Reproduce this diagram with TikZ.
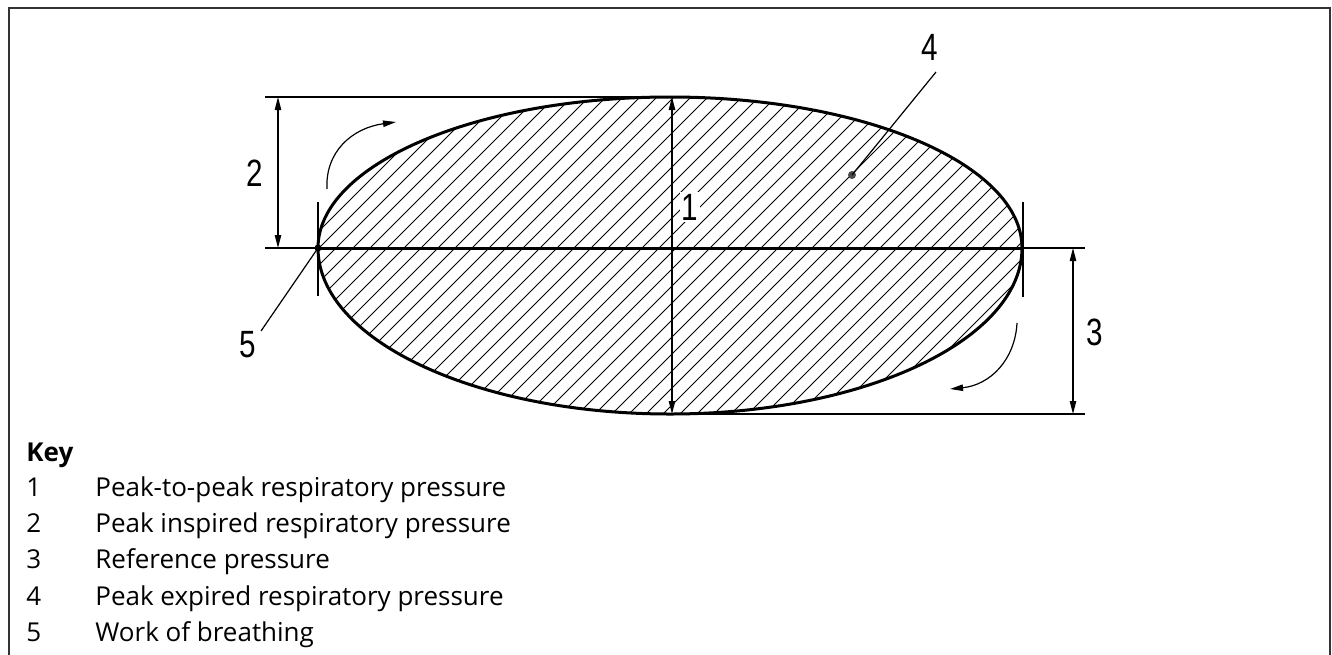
\documentclass[tikz,border=0pt]{standalone}
\usepackage{fontspec}
\setmainfont{Open Sans}
\newfontfamily\isofont[FakeStretch=0.78]{Liberation Sans}
\usetikzlibrary{arrows.meta, calc}
\definecolor{marco}{HTML}{333333}
\definecolor{punto}{HTML}{4A4A4A}

\begin{document}
\begin{tikzpicture}[x=0.5pt, y=-0.5pt,
    fina/.style={line width=0.6pt},
    gruesa/.style={line width=1.5pt},
    cota/.style={fina, {Triangle[length=6.5pt,width=3.2pt]}-{Triangle[length=6.5pt,width=3.2pt]}},
    flecha/.style={fina, -{Triangle[length=6.5pt,width=3.2pt]}},
    rayado/.style={line width=0.45pt},
    etiq/.style={font=\isofont\fontsize{19}{19}\selectfont, inner sep=1pt},
    clave/.style={anchor=base west, inner sep=0pt, font=\fontsize{13}{15}\selectfont}]
  \useasboundingbox (0,0) rectangle (1332,654);
  % Marco (abierto por abajo)
  \draw[line width=1pt, color=marco] (9,670) -- (9,8) -- (1330,8) -- (1330,670);

  % Puntos de la elipse
  \coordinate (izq) at (318,248);
  \coordinate (der) at (1022,248);
  \coordinate (cima) at (670,97);
  \coordinate (fondo) at (670,414);

  % Rayado del area (trabajo respiratorio)
  \begin{scope}
    \clip (izq) arc[start angle=180, end angle=360, x radius=352, y radius=151]
      arc[start angle=0, end angle=180, x radius=352, y radius=166] -- cycle;
    \foreach \c in {-60,-43,...,1060}
      \draw[rayado] (\c,440) -- ++(360,-360);
  \end{scope}
  \draw[gruesa] (izq) arc[start angle=180, end angle=360, x radius=352, y radius=151]
    arc[start angle=0, end angle=180, x radius=352, y radius=166] -- cycle;

  % Lineas de referencia
  \coordinate (refi) at (265,248);
  \coordinate (refd) at (1085,248);
  \coordinate (supi) at (265,97);
  \coordinate (infd) at (1085,414);
  \draw[fina] (refi) -- (refd);
  \draw[gruesa] (izq) -- (der);
  \draw[fina] (supi) -- (cima);
  \draw[fina] (fondo) -- (infd);

  % Marcas verticales en los extremos
  \draw[line width=1.4pt] ($(izq)+(0,-46)$) -- ($(izq)+(0,48)$);
  \draw[line width=1.4pt] ($(der)+(1,-46)$) -- ($(der)+(1,49)$);
  \fill (izq) circle[radius=3.5];

  % Cotas 1, 2 y 3
  \draw[cota] (672,97) -- (672,414);
  \draw[cota] (278,97) -- (278,248);
  \draw[cota] (1073,248) -- (1073,414);
  \node[etiq, fill=white] (n1) at (690,207) {1};
  \node[etiq] (n2) at (255,173) {2};
  \node[etiq] (n3) at (1095,332) {3};

  % Sentido del ciclo
  \coordinate (ia) at (327,189);
  \coordinate (ib) at (396,122);
  \coordinate (da) at (1017,323);
  \coordinate (db) at (950,389);
  \draw[flecha] (ia) .. controls (325,152) and (352,128) .. (ib);
  \draw[flecha] (da) .. controls (1015,360) and (990,385) .. (db);

  % Lineas de referencia 4 y 5
  \coordinate (p4) at (852,175);
  \coordinate (f4) at (936,72);
  \coordinate (f5) at (261,331);
  \fill[punto] (p4) circle[radius=4];
  \draw[fina] (p4) -- (f4);
  \draw[fina] (izq) -- (f5);
  \node[etiq] (n4) at (930,47) {4};
  \node[etiq] (n5) at (248,345) {5};

  % Leyenda
  \node[clave, font=\fontsize{13}{15}\selectfont\bfseries] (key) at (26,461) {Key};
  \foreach \n/\texto/\y in {%
    1/{Peak-to-peak respiratory pressure}/496,
    2/{Peak inspired respiratory pressure}/532,
    3/{Reference pressure}/568,
    4/{Peak expired respiratory pressure}/605,
    5/{Work of breathing}/641%
  } {
    \node[clave] (num\n) at (26,\y) {\n};
    \node[clave] (txt\n) at (95,\y) {\texto};
  }
\end{tikzpicture}
\end{document}
